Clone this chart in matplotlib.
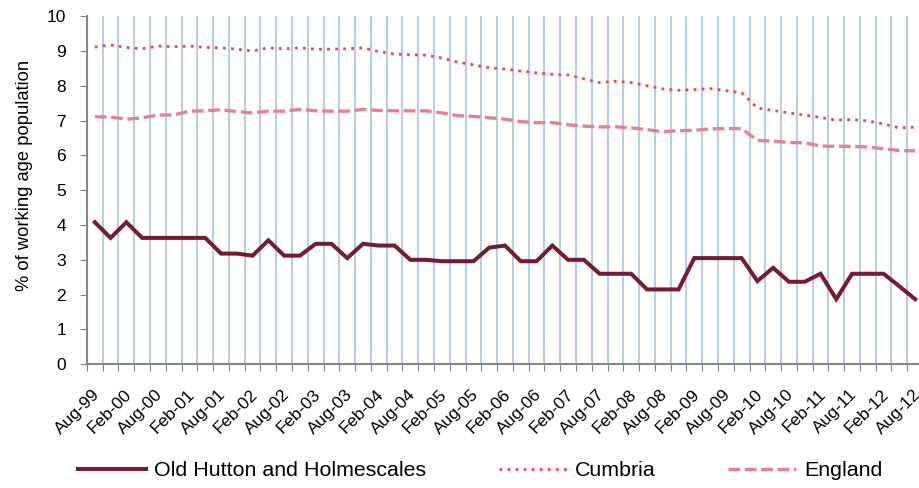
import numpy as np
import matplotlib.pyplot as plt
import matplotlib.transforms as mtransforms

plt.rcParams['font.family'] = ['Liberation Sans', 'DejaVu Sans']

# quarterly, Aug-99 .. Aug-12 (53 points), labels shown every other quarter
tick_labels = ['Aug-99', 'Feb-00', 'Aug-00', 'Feb-01', 'Aug-01', 'Feb-02', 'Aug-02',
               'Feb-03', 'Aug-03', 'Feb-04', 'Aug-04', 'Feb-05', 'Aug-05', 'Feb-06',
               'Aug-06', 'Feb-07', 'Aug-07', 'Feb-08', 'Aug-08', 'Feb-09', 'Aug-09',
               'Feb-10', 'Aug-10', 'Feb-11', 'Aug-11', 'Feb-12', 'Aug-12']

old_hutton = [4.08, 3.63, 4.08, 3.63, 3.63, 3.63, 3.63, 3.63, 3.18, 3.18,
              3.12, 3.56, 3.12, 3.12, 3.46, 3.46, 3.05, 3.46, 3.41, 3.41,
              3.00, 3.00, 2.96, 2.96, 2.96, 3.35, 3.41, 2.96, 2.96, 3.41,
              3.00, 3.00, 2.60, 2.60, 2.60, 2.15, 2.15, 2.15, 3.05, 3.05,
              3.05, 3.05, 2.39, 2.77, 2.37, 2.37, 2.60, 1.87, 2.60, 2.60,
              2.60, 2.24, 1.87]

cumbria = [9.11, 9.17, 9.10, 9.06, 9.14, 9.12, 9.14, 9.10, 9.09, 9.05,
           9.00, 9.09, 9.06, 9.09, 9.05, 9.05, 9.06, 9.09, 8.98, 8.91,
           8.89, 8.88, 8.80, 8.68, 8.60, 8.52, 8.48, 8.42, 8.37, 8.33,
           8.31, 8.20, 8.09, 8.13, 8.09, 8.00, 7.91, 7.87, 7.89, 7.92,
           7.86, 7.80, 7.36, 7.29, 7.22, 7.16, 7.09, 7.01, 7.03, 6.99,
           6.90, 6.79, 6.81]

england = [7.11, 7.10, 7.04, 7.08, 7.16, 7.16, 7.27, 7.28, 7.31, 7.26,
           7.22, 7.27, 7.27, 7.32, 7.28, 7.27, 7.27, 7.32, 7.29, 7.28,
           7.28, 7.28, 7.22, 7.14, 7.12, 7.08, 7.04, 6.97, 6.94, 6.94,
           6.88, 6.84, 6.82, 6.82, 6.79, 6.74, 6.68, 6.71, 6.72, 6.76,
           6.77, 6.77, 6.43, 6.41, 6.37, 6.36, 6.27, 6.26, 6.26, 6.24,
           6.19, 6.14, 6.13]

n = len(old_hutton)
x = np.arange(n)

fig = plt.figure(figsize=(9.19, 4.88), dpi=100)
ax = fig.add_axes([0.0946, 0.2535, 0.9098, 0.7135])

# category boundaries -> gridlines and tick marks
bounds = np.arange(n + 1) - 0.5
ax.set_xticks(bounds)
ax.set_xticklabels([])
ax.grid(axis='x', color='#b9cde5', linewidth=1.5)
ax.set_axisbelow(True)
ax.tick_params(axis='x', which='major', direction='out', length=5, color='#868686')

# labels at every other category centre
ax.set_xticks(x[::2], minor=True)
ax.set_xticklabels(tick_labels, minor=True, rotation=45, ha='right',
                   rotation_mode='anchor', fontsize=12.5)
ax.tick_params(axis='x', which='minor', length=0, pad=16)
shift = mtransforms.ScaledTranslation(-0.025, 0, fig.dpi_scale_trans)
for lab in ax.get_xticklabels(minor=True):
    lab.set_transform(lab.get_transform() + shift)

l1, = ax.plot(x, old_hutton, color='#771c30', linewidth=2.9, solid_joinstyle='miter')
l2, = ax.plot(x, cumbria, color='#ff3f4f', linewidth=2.0, linestyle=(0, (1, 1.9)))
l3, = ax.plot(x, england, color='#f07c8f', linewidth=2.4, linestyle=(0, (3.5, 1.4)))

ax.set_xlim(-0.5, n - 0.5)
ax.set_ylim(0, 10)
ax.set_yticks(range(0, 11))
ax.tick_params(axis='y', direction='out', length=5, color='#868686', labelsize=12.5, pad=10)
ax.set_ylabel('% of working age population', fontsize=13.2)
ax.yaxis.set_label_coords(-0.0645, 0.543)

for s in ['top', 'right']:
    ax.spines[s].set_visible(False)
for s in ['left', 'bottom']:
    ax.spines[s].set_color('#868686')
    ax.spines[s].set_linewidth(1.5)

fig.legend([l1, l2, l3], ['Old Hutton and Holmescales', 'Cumbria', 'England'],
           loc='center', bbox_to_anchor=(480 / 919, 1 - 471 / 488), ncol=3,
           frameon=False, fontsize=15.4, handlelength=3.2, handletextpad=0.35,
           columnspacing=3.4)

fig.savefig('out.png', dpi=100)
